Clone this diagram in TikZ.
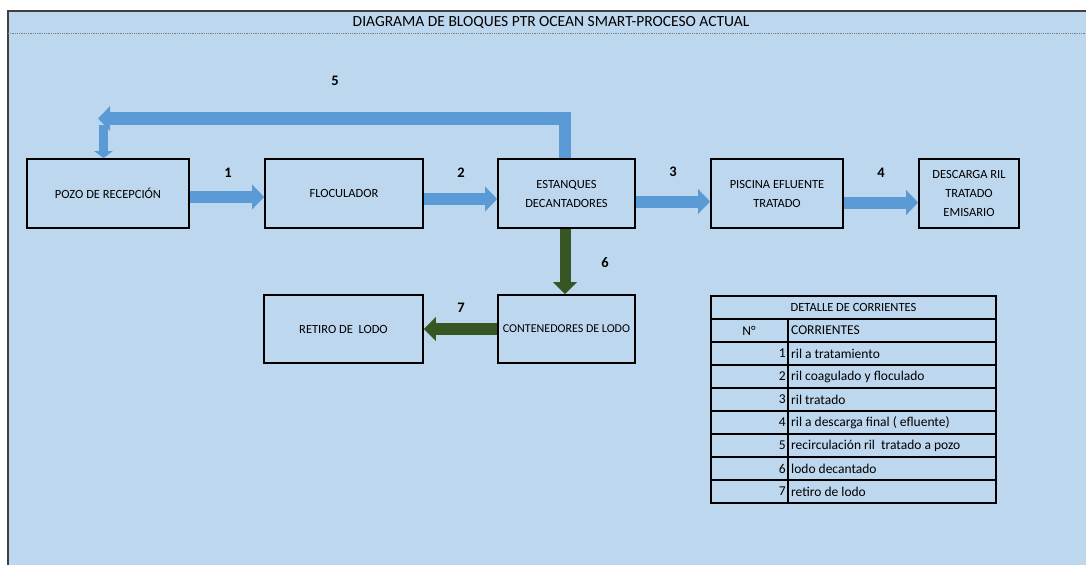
\documentclass[tikz,border=0pt]{standalone}
\usepackage{fontspec}
\setmainfont{Carlito}
\usetikzlibrary{arrows.meta}
\definecolor{fondo}{HTML}{BDD7EE}
\definecolor{azul}{HTML}{5B9BD5}
\definecolor{verde}{HTML}{375623}

\begin{document}
\begin{tikzpicture}[x=1pt,y=-1pt,
                        bloque/.style={draw=black, line width=1.6pt, fill=fondo, align=center, inner sep=0pt, minimum height=69pt, font=\fontsize{12.5}{19}\selectfont},
                        flujo/.style={azul, line width=12pt, -{Triangle[length=12pt 0 0, width=24pt 0 0]}},
                        lodo/.style={verde, line width=11pt, -{Triangle[length=12pt 0 0, width=23pt 0 0]}},
                        numero/.style={font=\fontsize{14.5}{16}\selectfont\bfseries},
                        celda/.style={font=\fontsize{13.5}{15}\selectfont, inner sep=0pt}]
                        \useasboundingbox (0,0) rectangle (1086,565);
                        \fill[fondo] (8,11) rectangle (1086,565);
                        \draw[line width=1.5pt, black!75] (8,565) -- (8,11) -- (1086,11);
                        \draw[gray, densely dotted, line width=0.8pt] (8,33) -- (1086,33);
                        \node (titulo) at (551,22) {\fontsize{15.5}{17}\selectfont DIAGRAMA DE BLOQUES PTR OCEAN SMART-PROCESO ACTUAL};
                        
                        \node[bloque, minimum width=162pt] (pozo) at (108,193.5) {POZO DE RECEPCIÓN};
                        \node[bloque, minimum width=158pt] (floc) at (344,193.5) {FLOCULADOR};
                        \node[bloque, minimum width=137pt] (est) at (566.5,193.5) {ESTANQUES\\DECANTADORES};
                        \node[bloque, minimum width=132pt] (pisc) at (777,193.5) {PISCINA EFLUENTE\\TRATADO};
                        \node[bloque, minimum width=100pt] (desc) at (969,193.5) {DESCARGA RIL\\TRATADO\\EMISARIO};
                        \node[bloque, minimum width=159pt, minimum height=68pt] (ret) at (343.5,329) {RETIRO DE\ \ LODO};
                        \node[bloque, minimum width=137pt, minimum height=68pt, font=\fontsize{12}{19}\selectfont] (cont) at (566.5,329) {CONTENEDORES DE LODO};
                        
                        \draw[flujo] ([yshift=-3.5pt]pozo.east) -- ([yshift=-3.5pt]floc.west);
                        \draw[flujo] ([yshift=-5.5pt]floc.east) -- ([yshift=-5.5pt]est.west);
                        \draw[flujo] ([yshift=-8pt]est.east) -- ([yshift=-8pt]pisc.west);
                        \draw[flujo] ([yshift=-9pt]pisc.east) -- ([yshift=-9pt]desc.west);
                        
                        \coordinate (giro) at (98,118.5);
                        \coordinate (bajada) at (103.5,125);
                        \draw[flujo, line width=12.5pt] ([xshift=-1.5pt]est.north) |- (giro);
                        \draw[azul, line width=9pt, -{Triangle[length=7pt 0 0, width=18pt 0 0]}] (bajada) -- (bajada |- pozo.north);
                        
                        \draw[lodo] ([xshift=-1.5pt]est.south) -- ([xshift=-1.5pt]cont.north);
                        \draw[lodo, line width=12.5pt] (cont.west) -- (ret.east);
                        
                        \node[numero] (n1) at (228,173) {1};
                        \node[numero] (n2) at (461,173) {2};
                        \node[numero] (n3) at (673,172) {3};
                        \node[numero] (n4) at (881,173) {4};
                        \node[numero] (n5) at (335,81) {5};
                        \node[numero] (n6) at (605,263) {6};
                        \node[numero] (n7) at (461,308) {7};
                        
                        \draw[line width=1.6pt] (711,296) rectangle (996,503);
                        \draw[line width=1.2pt] (711,319) -- (996,319);
                        \draw[line width=1.2pt] (711,342) -- (996,342);
                        \draw[line width=1.2pt] (711,365) -- (996,365);
                        \draw[line width=1.2pt] (711,388) -- (996,388);
                        \draw[line width=1.2pt] (711,411) -- (996,411);
                        \draw[line width=1.2pt] (711,434) -- (996,434);
                        \draw[line width=1.2pt] (711,457) -- (996,457);
                        \draw[line width=1.2pt] (711,480) -- (996,480);
                        \draw[line width=1.4pt] (788,319) -- (788,503);
                        
                        \node[celda, font=\fontsize{12.5}{15}\selectfont] (detalle) at (853.5,307.5) {DETALLE DE CORRIENTES};
                        \node[celda] (num) at (749,330.5) {N°};
                        \node[celda, anchor=west] (corr) at (791,330.5) {CORRIENTES};
                        \node[celda, anchor=east] (c1) at (786,353.5) {1};
                        \node[celda, anchor=west] (t1) at (791,353.5) {ril a tratamiento};
                        \node[celda, anchor=east] (c2) at (786,376.5) {2};
                        \node[celda, anchor=west] (t2) at (791,376.5) {ril coagulado y floculado};
                        \node[celda, anchor=east] (c3) at (786,399.5) {3};
                        \node[celda, anchor=west] (t3) at (791,399.5) {ril tratado};
                        \node[celda, anchor=east] (c4) at (786,422.5) {4};
                        \node[celda, anchor=west] (t4) at (791,422.5) {ril a descarga final ( efluente)};
                        \node[celda, anchor=east] (c5) at (786,445.5) {5};
                        \node[celda, anchor=west] (t5) at (791,445.5) {recirculación ril\ \ tratado a pozo};
                        \node[celda, anchor=east] (c6) at (786,468.5) {6};
                        \node[celda, anchor=west] (t6) at (791,468.5) {lodo decantado};
                        \node[celda, anchor=east] (c7) at (786,491.5) {7};
                        \node[celda, anchor=west] (t7) at (791,491.5) {retiro de lodo};
\end{tikzpicture}
\end{document}
